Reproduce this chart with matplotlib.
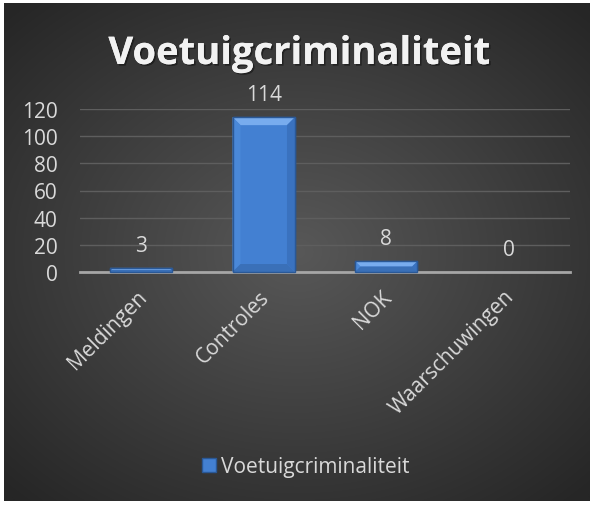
import numpy as np
import matplotlib
matplotlib.use("Agg")
import matplotlib.pyplot as plt
from matplotlib.patches import Polygon
from matplotlib.lines import Line2D
from matplotlib.transforms import IdentityTransform, ScaledTranslation
import matplotlib.patheffects as pe

categories = ["Meldingen", "Controles", "NOK", "Waarschuwingen"]
values = [3, 114, 8, 0]
series_name = "Voetuigcriminaliteit"
title = "Voetuigcriminaliteit"
yticks = [0, 20, 40, 60, 80, 100, 120]

W, H = 596, 506
fig = plt.figure(figsize=(W / 100, H / 100), dpi=100)
fig.patch.set_facecolor("white")

FONT = "Open Sans"
TXT = "#d9d9d9"
BAR = "#4380d2"
BAR_EDGE = "#2a5896"

# dark radial gradient background
bg = fig.add_axes([4 / W, 4 / H, 586 / W, 498 / H])
yy, xx = np.mgrid[-1:1:300j, -1:1:360j]
r = np.sqrt((xx * 0.95) ** 2 + (yy * 1.0) ** 2)
r = np.clip(r / 1.35, 0, 1)
c0 = np.array([0x58, 0x58, 0x58]) / 255
c1 = np.array([0x26, 0x26, 0x26]) / 255
img = c0[None, None, :] * (1 - r[..., None]) + c1[None, None, :] * r[..., None]
bg.imshow(img, aspect="auto", extent=[0, 1, 0, 1], interpolation="bilinear")
bg.set_axis_off()

ax = fig.add_axes([80 / W, 1 - 273 / H, 490 / W, 163 / H])
ax.set_facecolor("none")
x = np.arange(len(categories))
bars = ax.bar(x, values, width=0.51, color=BAR, edgecolor=BAR_EDGE,
              linewidth=1.0, zorder=3)
ax.set_xlim(-0.5, len(categories) - 0.5)
ax.set_ylim(0, 120)
ax.set_yticks(yticks)
ax.set_yticklabels([str(t) for t in yticks], family=FONT)
ax.grid(axis="y", color="#5e5e5e", linewidth=1.0, zorder=0)
ax.set_axisbelow(True)
for s in ["top", "right", "left"]:
    ax.spines[s].set_visible(False)
ax.spines["bottom"].set_color("#a6a6a6")
ax.spines["bottom"].set_linewidth(2)
ax.spines["bottom"].set_zorder(6)
ax.tick_params(axis="y", length=0, pad=16, labelsize=15, labelcolor=TXT)
ax.tick_params(axis="x", length=0, pad=10, labelsize=15, labelcolor=TXT)
ax.set_xticks(x)
ax.set_xticklabels(categories, rotation=45, ha="right", va="top",
                   rotation_mode="anchor", family=FONT)
shift = ScaledTranslation(-5 / 100, 0, fig.dpi_scale_trans)
for lab in ax.get_xticklabels():
    lab.set_transform(lab.get_transform() + shift)

for xi, v in zip(x, values):
    ax.annotate(str(v), (xi, v), xytext=(0, 16.5), textcoords="offset points",
                ha="center", va="center", fontsize=15, color=TXT, family=FONT)

fig.text(300 / W, 1 - 65 / H, title, ha="center", va="baseline", fontsize=27.5,
         fontweight="bold", color="#f2f2f2", family=FONT,
         path_effects=[pe.withSimplePatchShadow(offset=(1.2, -1.2), shadow_rgbFace="black", alpha=0.4),
                       pe.Normal()])

handle = Line2D([], [], marker="s", linestyle="none", markersize=10,
                markerfacecolor=BAR, markeredgecolor=BAR_EDGE)
fig.legend([handle], [series_name], loc="center", bbox_to_anchor=(304 / W, 1 - 468 / H),
           frameon=False, handletextpad=0.1, handlelength=1.0,
           prop={"family": FONT, "size": 15}, labelcolor=TXT)

# bevel effect, in pixel space from the bars' rendered extents
fig.canvas.draw()
for b in bars:
    bb = b.get_window_extent()
    x0, x1, y0, y1 = bb.x0, bb.x1, bb.y0, bb.y1
    h = y1 - y0
    if h < 1:
        continue
    d = min(8.0, h / 2.0, (x1 - x0) / 2.0)
    top = Polygon([(x0, y1), (x1, y1), (x1 - d, y1 - d), (x0 + d, y1 - d)],
                  closed=True, transform=IdentityTransform(), facecolor="#78acee",
                  edgecolor="none", zorder=5)
    left = Polygon([(x0, y0), (x0, y1), (x0 + d, y1 - d), (x0 + d, y0 + d)],
                   closed=True, transform=IdentityTransform(), facecolor="#4a88d8",
                   edgecolor="none", zorder=5)
    right = Polygon([(x1, y0), (x1, y1), (x1 - d, y1 - d), (x1 - d, y0 + d)],
                    closed=True, transform=IdentityTransform(), facecolor="#3a72bf",
                    edgecolor="none", zorder=5)
    bot = Polygon([(x0, y0), (x1, y0), (x1 - d, y0 + d), (x0 + d, y0 + d)],
                  closed=True, transform=IdentityTransform(), facecolor="#3a70b8",
                  edgecolor="none", zorder=5)
    for p in (top, left, right, bot):
        fig.add_artist(p)
    fig.add_artist(Polygon([(x0, y0), (x1, y0), (x1, y1), (x0, y1)], closed=True,
                           transform=IdentityTransform(), facecolor="none",
                           edgecolor=BAR_EDGE, linewidth=1.0, zorder=5))

fig.savefig("out.png", dpi=100, facecolor=fig.get_facecolor())
